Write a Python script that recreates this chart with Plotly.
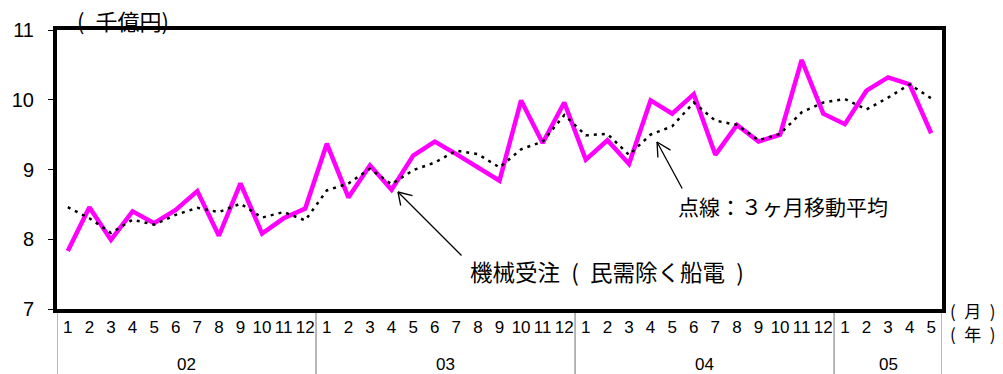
import plotly.graph_objects as go

# Monthly machinery orders (private demand excl. ships & electric power), 100 billion yen
years = ["02", "03", "04", "05"]
months_per_year = [12, 12, 12, 5]
month_labels = [str(m) for n in months_per_year for m in range(1, n + 1)]

orders = [
    7.83, 8.46, 7.99, 8.40, 8.23, 8.42, 8.69, 8.05, 8.80, 8.08, 8.30, 8.44,
    9.37, 8.60, 9.06, 8.71, 9.20, 9.40, 9.22, 9.03, 8.84, 9.99, 9.38, 9.96,
    9.14, 9.42, 9.08, 9.99, 9.80, 10.08, 9.21, 9.64, 9.40, 9.50, 10.57, 9.80,
    9.65, 10.13, 10.32, 10.22, 9.52,
]
moving_avg = [
    8.46, 8.30, 8.09, 8.28, 8.21, 8.35, 8.45, 8.39, 8.51, 8.31, 8.39, 8.27,
    8.70, 8.80, 9.01, 8.79, 8.99, 9.10, 9.27, 9.22, 9.03, 9.29, 9.40, 9.78,
    9.49, 9.51, 9.21, 9.50, 9.62, 9.96, 9.70, 9.64, 9.42, 9.51, 9.82, 9.96,
    10.01, 9.86, 10.03, 10.22, 10.02,
]
y_ticks = [7, 8, 9, 10, 11]

idx = list(range(len(month_labels)))
n = len(idx)

W, H = 1003, 374
L, R, T, B = 57, 61, 30, 65
plot_w, plot_h = W - L - R, H - T - B


def px(x):
    """Horizontal page pixel -> paper fraction."""
    return (x - L) / plot_w


def py(y):
    """Vertical page pixel (from top) -> paper fraction."""
    return (H - B - y) / plot_h


fig = go.Figure()
fig.add_trace(go.Scatter(
    x=idx, y=orders, mode="lines",
    line=dict(color="#FF00FF", width=4.5),
    hoverinfo="skip", showlegend=False,
))
fig.add_trace(go.Scatter(
    x=idx, y=moving_avg, mode="lines",
    line=dict(color="black", width=2.5, dash="3px,5px"),
    hoverinfo="skip", showlegend=False,
))

CJK = "Noto Sans CJK JP"
LAT = "Liberation Sans, Arial, sans-serif"
SP = "\u2002"  # en space for the wide bracket spacing

fig.update_layout(
    width=W, height=H,
    margin=dict(l=L, r=R, t=T, b=B),
    paper_bgcolor="white", plot_bgcolor="white",
    font=dict(family=LAT, color="black"),
    xaxis=dict(
        range=[-0.5, n - 0.5],
        tickmode="array", tickvals=idx, ticktext=month_labels,
        tickangle=0, ticks="", showgrid=False, zeroline=False,
        showline=True, linecolor="black", linewidth=4, mirror=True,
        tickfont=dict(size=17, family=LAT), ticklabelstandoff=0,
    ),
    yaxis=dict(
        range=[7, 11], tickmode="array", tickvals=y_ticks,
        ticktext=[str(v) for v in y_ticks],
        ticks="outside", ticklen=5, tickwidth=1, tickcolor="black",
        showgrid=False, zeroline=False,
        showline=True, linecolor="black", linewidth=4, mirror=True,
        tickfont=dict(size=20, family=LAT), ticklabelstandoff=10,
    ),
)

# Year separators below the axis and year labels
bounds = [-0.5]
for cnt in months_per_year:
    bounds.append(bounds[-1] + cnt)
for b in bounds:
    fig.add_shape(type="line", xref="x", yref="paper", x0=b, x1=b, y0=0, y1=py(H + 2),
                  line=dict(color="#707070", width=1), layer="below")
for yr, a, b in zip(years, bounds[:-1], bounds[1:]):
    fig.add_annotation(x=(a + b) / 2, xref="x", y=py(364), yref="paper",
                       text=yr, showarrow=False, yanchor="middle",
                       font=dict(size=17, family=LAT))


def label(x, y, text, size):
    fig.add_annotation(x=px(x), y=py(y), xref="paper", yref="paper", text=text,
                       showarrow=False, xanchor="center", yanchor="middle",
                       font=dict(size=size, family=CJK))


# Unit labels
label(123, 20, f"({SP}千億円)", 22)
label(973, 310, f"({SP}月{SP})", 17)
label(973, 333, f"({SP}年{SP})", 17)

# Series labels
label(607, 271, f"機械受注{SP}({SP}民需除く船電{SP})", 22.5)
label(783, 206, "点線：３ヶ月移動平均", 21)


def arrow(tip, tail, barb1, barb2):
    """Open arrowhead line from tail to tip (page pixels)."""
    for dx, dy in ((tail[0] - tip[0], tail[1] - tip[1]), barb1, barb2):
        fig.add_annotation(x=px(tip[0]), y=py(tip[1]), xref="paper", yref="paper",
                           text="", showarrow=True, arrowhead=0, arrowwidth=1.3,
                           arrowcolor="black", ax=dx, ay=dy, standoff=0,
                           startstandoff=0)


arrow((398, 192), (463, 257), (16, 4), (3, 15))
arrow((657, 142), (683, 190), (15, 9), (1, 17))

fig.write_html("out.html")
